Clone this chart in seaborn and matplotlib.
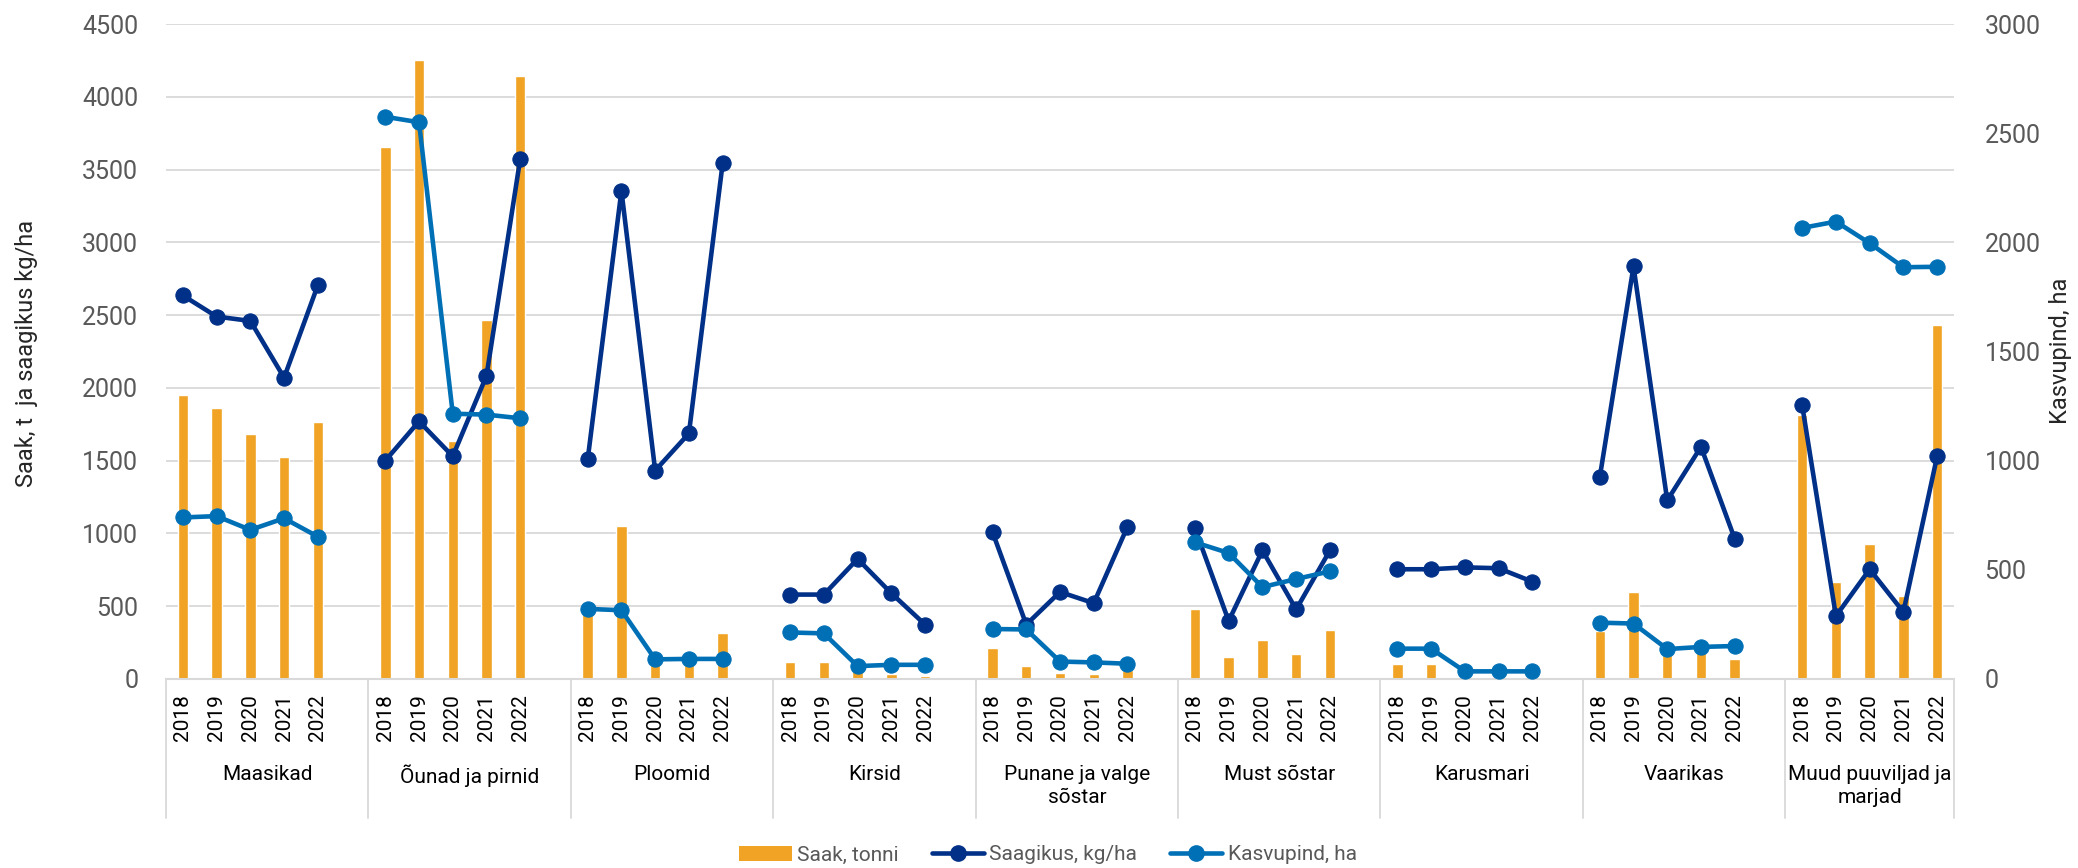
import numpy as np
import pandas as pd
import matplotlib
matplotlib.use('Agg')
import matplotlib.pyplot as plt
import seaborn as sns
from matplotlib.patches import Patch
from matplotlib.lines import Line2D

# Andmed: puuviljad ja marjad 2018-2022
groups = ['Maasikad', 'Õunad ja pirnid', 'Ploomid', 'Kirsid',
          'Punane ja valge\nsõstar', 'Must sõstar', 'Karusmari', 'Vaarikas',
          'Muud puuviljad ja\nmarjad']
years = ['2018', '2019', '2020', '2021', '2022']

# Saak, tonni (vasak telg)
saak = [1950, 1862, 1684, 1524, 1764,
        3656, 4254, 1632, 2466, 4144,
        470, 1049, 120, 110, 319,
        117, 117, 70, 31, 18,
        215, 86, 43, 37, 60,
        481, 150, 270, 172, 334,
        104, 104, 15, 10, 12,
        331, 601, 190, 210, 135,
        1813, 665, 929, 573, 2435]

# Saagikus, kg/ha (vasak telg)
saagikus = [2635, 2490, 2460, 2070, 2705,
            1500, 1770, 1530, 2083, 3573,
            1509, 3355, 1432, 1687, 3542,
            580, 580, 825, 589, 374,
            1009, 374, 598, 521, 1046,
            1034, 399, 883, 478, 883,
            754, 754, 767, 761, 669,
            1386, 2834, 1227, 1595, 963,
            1880, 432, 754, 460, 1530]

# Kasvupind, ha (parem telg)
kasvupind = [740, 746, 683, 736, 652,
             2575, 2550, 1215, 1211, 1194,
             321, 315, 90, 92, 92,
             213, 209, 59, 65, 65,
             229, 227, 80, 76, 70,
             626, 577, 421, 458, 493,
             139, 139, 35, 35, 35,
             258, 254, 137, 147, 151,
             2066, 2095, 1996, 1886, 1888]

ORANGE = '#F0A324'
NAVY = '#003087'
BLUE = '#0070B6'
GRID = '#D9D9D9'
GREY = '#595959'

# Excel-stiilis: iga grupi järel üks tühi koht
rows = []
for gi, g in enumerate(groups):
    for yi, y in enumerate(years):
        k = gi * len(years) + yi
        rows.append({'grp': g, 'year': y, 'pos': gi * 6 + yi,
                     'saak': saak[k], 'saagikus': saagikus[k],
                     'kasvupind': kasvupind[k]})
df = pd.DataFrame(rows)

sns.set_style('white')
plt.rcParams['font.family'] = ['Roboto', 'DejaVu Sans']

fig, ax = plt.subplots(figsize=(20.78, 8.68), dpi=100)
fig.subplots_adjust(left=166 / 2078, right=1954 / 2078,
                    top=1 - 24 / 868, bottom=1 - 679 / 868)

sns.barplot(data=df, x='pos', y='saak', native_scale=True, width=0.31,
            color=ORANGE, saturation=1, errorbar=None, ax=ax, zorder=2)
sns.lineplot(data=df, x='pos', y='saagikus', units='grp', estimator=None,
             color=NAVY, marker='o', markersize=11, markeredgecolor=NAVY,
             linewidth=3.3, legend=False, ax=ax, zorder=3)

ax2 = ax.twinx()
sns.lineplot(data=df, x='pos', y='kasvupind', units='grp', estimator=None,
             color=BLUE, marker='o', markersize=11, markeredgecolor=BLUE,
             linewidth=3.3, legend=False, ax=ax2, zorder=3)

last = len(groups) * 6 - 1
ax.set_xlim(-0.5, last - 0.5)
ax2.set_xlim(-0.5, last - 0.5)
ax.set_ylim(0, 4500)
ax2.set_ylim(0, 3000)

ax.set_xticks(df['pos'])
ax.set_xticklabels(df['year'], rotation=90, fontsize=15, color='black')
ax.tick_params(axis='x', length=0, pad=11)

ax.set_yticks(range(0, 4501, 500))
ax.set_yticklabels([str(v) for v in range(0, 4501, 500)], fontsize=18, color=GREY)
ax.tick_params(axis='y', length=0, pad=20)
ax2.set_yticks(range(0, 3001, 500))
ax2.set_yticklabels([str(v) for v in range(0, 3001, 500)], fontsize=18, color=GREY)
ax2.tick_params(axis='y', length=0, pad=22)

ax.set_xlabel('')
ax.set_ylabel('')
ax2.set_ylabel('')
ax.yaxis.grid(True, color=GRID, linewidth=1.3)
ax.set_axisbelow(True)
for s in ['top', 'left', 'right']:
    ax.spines[s].set_visible(False)
for s in ['top', 'left', 'right', 'bottom']:
    ax2.spines[s].set_visible(False)
ax.spines['bottom'].set_color(GRID)
ax.spines['bottom'].set_linewidth(1.5)

# gruppide eraldusjooned ja nimed
bounds = [gi * 6 - 0.5 for gi in range(len(groups))] + [last - 0.5]
tr = ax.get_xaxis_transform()
for b in bounds:
    ax.plot([b, b], [0, -0.2122], transform=tr, color=GRID, lw=1.3,
            clip_on=False)
for gi, g in enumerate(groups):
    cx = (bounds[gi] + bounds[gi + 1]) / 2
    ax.text(cx, -0.131, g, transform=tr, ha='center', va='top',
            fontsize=15, linespacing=1.3, color='black')

fig.text(27 / 2078, 1 - 353 / 868, 'Saak, t  ja saagikus kg/ha', rotation=90,
         ha='center', va='center', fontsize=17)
fig.text(2060 / 2078, 1 - 351 / 868, 'Kasvupind, ha', rotation=90,
         ha='center', va='center', fontsize=17)

handles = [Patch(facecolor=ORANGE, edgecolor='none'),
           Line2D([], [], color=NAVY, lw=3.3, marker='o', markersize=11),
           Line2D([], [], color=BLUE, lw=3.3, marker='o', markersize=11)]
labels = ['Saak, tonni', 'Saagikus, kg/ha', 'Kasvupind, ha']
fig.legend(handles, labels, loc='center', bbox_to_anchor=(1048 / 2078, 1 - 855 / 868),
           ncol=3, frameon=False, fontsize=15, labelcolor=GREY,
           handlelength=2.5, handletextpad=0.25, columnspacing=1.6)

fig.savefig('out.png', dpi=100)
